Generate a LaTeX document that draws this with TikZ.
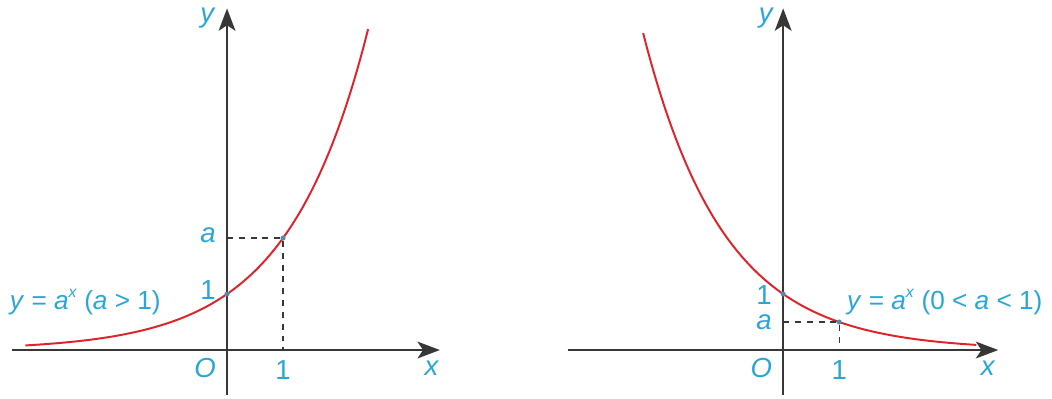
\documentclass[tikz,border=0pt]{standalone}
\usepackage{fontspec}
\setmainfont{Liberation Sans}
\usepackage{xcolor}
\usepackage{tikz}
\usetikzlibrary{arrows.meta}
\definecolor{lblc}{RGB}{41,166,214}
\definecolor{crvc}{RGB}{222,36,42}
\definecolor{axsc}{RGB}{55,55,55}
\definecolor{dotc}{RGB}{80,140,175}
\newcommand{\supx}{\raisebox{0.85ex}{\fontsize{8}{8}\selectfont\textit{x}}}
\tikzset{
lbl/.style={text=lblc,font=\fontsize{14}{16}\selectfont,inner sep=1pt},
eqlbl/.style={text=lblc,font=\fontsize{13.3}{16}\selectfont,inner sep=1pt},
axis/.style={axsc,line width=1pt,-{Stealth[length=4mm,width=3mm,inset=1mm]}},
curve/.style={crvc,line width=1pt,smooth,samples=80},
guide/.style={axsc,dashed,line width=0.6pt},
}
\begin{document}
\begin{tikzpicture}[=>stealth]
\useasboundingbox(-4.054,-0.857)rectangle(14.73,6.25);
% a > 1
\draw[axis](-3.84,0)--(3.8,0);
\draw[axis](0,-0.8)--(0,6.1);
\draw[curve,domain=-3.6:2.52,variable=\x]plot(\x,{2^\x});
\coordinate(aL)at(0,2);
\coordinate(pL)at(1,2);
\coordinate(uL)at(1,0);
\draw[guide](aL)--(pL)--(uL);
\fill[dotc](0,1)circle(0.045) (pL)circle(0.045);
\node[lbl](yL)at(-0.34,5.93){\textit{y}};
\node[lbl](xL)at(3.66,-0.32){\textit{x}};
\node[lbl](oL)at(-0.39,-0.32){\textit{O}};
\node[lbl](oneXL)at(1,-0.36){1};
\node[lbl](oneYL)at(-0.34,1.07){1};
\node[lbl](aLbl)at(-0.34,2.05){\textit{a}};
\node[eqlbl,anchor=west](eqL)at(-3.92,0.86){\textit{y} = \textit{a}\supx\ (\textit{a} > 1)};
% 0 < a < 1
\begin{scope}[xshift=9.93cm]
\draw[axis](-3.85,0)--(3.84,0);
\draw[axis](0,-0.8)--(0,6.1);
\draw[curve,domain=-2.5:3.45,variable=\x]plot(\x,{0.5^\x});
\coordinate(aR)at(0,0.5);
\coordinate(pR)at(1,0.5);
\coordinate(uR)at(1,0);
\draw[guide](aR)--(pR)--(uR);
\fill[dotc](0,1)circle(0.045) (pR)circle(0.045);
\node[lbl](yR)at(-0.3,5.93){\textit{y}};
\node[lbl](xR)at(3.66,-0.32){\textit{x}};
\node[lbl](oR)at(-0.39,-0.32){\textit{O}};
\node[lbl](oneXR)at(1,-0.36){1};
\node[lbl](oneYR)at(-0.34,0.98){1};
\node[lbl](aRlbl)at(-0.34,0.5){\textit{a}};
\node[eqlbl,anchor=west](eqR)at(1.1,0.86){\textit{y} = \textit{a}\supx\ (0 < \textit{a} < 1)};
\end{scope}
\end{tikzpicture}
\end{document}
